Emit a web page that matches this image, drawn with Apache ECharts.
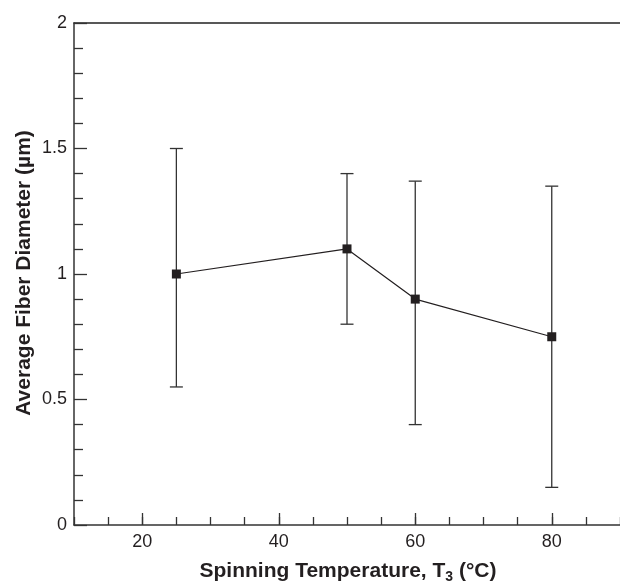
<!DOCTYPE html>
<html>
<head>
<meta charset="utf-8">
<script src="https://cdn.jsdelivr.net/npm/echarts@6/dist/echarts.min.js"></script>
<style>
  html, body { margin: 0; padding: 0; background: #fff; }
  #chart { width: 620px; height: 583px; }
</style>
</head>
<body>
<div id="chart"></div>
<script>
// Spinning temperature (°C) and measured fiber diameter (µm)
const temps = [25, 50, 60, 80];
const diameters = [1.0, 1.1, 0.9, 0.75];
const errLow = [0.55, 0.80, 0.40, 0.15];
const errHigh = [1.50, 1.40, 1.37, 1.35];
const xMajorTicks = [20, 40, 60, 80];

const FONT = '"Liberation Sans", Arial, sans-serif';
const INK = '#231f20';

const chart = echarts.init(document.getElementById('chart'), null, { renderer: 'canvas' });

const meanPoints = temps.map((t, i) => [t, diameters[i]]);
const barPoints = temps.map((t, i) => [t, errLow[i], errHigh[i]]);

const option = {
  animation: false,
  backgroundColor: '#fff',
  grid: { left: 74, top: 23, bottom: 58, right: -3, containLabel: false },
  xAxis: [
    {
      type: 'value', min: 10, max: 90, position: 'bottom',
      axisLine: { show: true, lineStyle: { color: '#333', width: 1.5 } },
      axisTick: { show: true, inside: true, length: 12, customValues: xMajorTicks,
                  lineStyle: { color: '#333', width: 1.3 } },
      axisLabel: { customValues: xMajorTicks, color: INK, fontSize: 18, fontFamily: FONT, margin: 8 },
      splitLine: { show: false }
    },
    {
      type: 'value', min: 10, max: 90, interval: 5, position: 'bottom', offset: 0,
      axisLine: { show: false },
      axisTick: { show: true, inside: true, length: 8, lineStyle: { color: '#333', width: 1.3 } },
      axisLabel: { show: false },
      splitLine: { show: false }
    },
    {
      type: 'value', min: 10, max: 90, position: 'top',
      axisLine: { show: true, lineStyle: { color: '#222', width: 1.5 } },
      axisTick: { show: false },
      axisLabel: { show: false },
      splitLine: { show: false }
    }
  ],
  yAxis: {
    type: 'value', min: 0, max: 2, interval: 0.5,
    axisLine: { show: true, lineStyle: { color: '#333', width: 1.5 } },
    axisTick: { show: true, inside: true, length: 13, lineStyle: { color: '#333', width: 1.3 } },
    minorTick: { show: true, splitNumber: 5, length: 9, lineStyle: { color: '#333', width: 1.3 } },
    axisLabel: { color: INK, fontSize: 18, fontFamily: FONT, margin: 7 },
    splitLine: { show: false },
    minorSplitLine: { show: false }
  },
  graphic: [
    {
      type: 'text', x: 348, y: 571,
      style: {
        text: '{t|Spinning Temperature, T}{s|3}{t| (°C)}',
        align: 'center', verticalAlign: 'middle',
        rich: {
          t: { fontSize: 21, fontWeight: 'bold', fontFamily: FONT, fill: INK },
          s: { fontSize: 14, fontWeight: 'bold', fontFamily: FONT, fill: INK, padding: [12, 0, 0, 0] }
        }
      }
    },
    {
      type: 'text', x: 24, y: 273, rotation: Math.PI / 2,
      style: {
        text: 'Average Fiber Diameter (µm)',
        fontSize: 21, fontWeight: 'bold', fontFamily: FONT, fill: INK,
        align: 'center', verticalAlign: 'middle'
      }
    }
  ],
  series: [
    {
      type: 'custom',
      xAxisIndex: 0,
      data: barPoints,
      z: 2,
      renderItem: function (params, api) {
        const x = api.value(0);
        const lo = api.coord([x, api.value(1)]);
        const hi = api.coord([x, api.value(2)]);
        const half = 6.5;
        const style = { stroke: '#333', lineWidth: 1.3 };
        return {
          type: 'group',
          children: [
            { type: 'line', shape: { x1: lo[0], y1: lo[1], x2: hi[0], y2: hi[1] }, style: style },
            { type: 'line', shape: { x1: hi[0] - half, y1: hi[1], x2: hi[0] + half, y2: hi[1] }, style: style },
            { type: 'line', shape: { x1: lo[0] - half, y1: lo[1], x2: lo[0] + half, y2: lo[1] }, style: style }
          ]
        };
      }
    },
    {
      type: 'line',
      xAxisIndex: 0,
      data: meanPoints,
      z: 3,
      symbol: 'rect',
      symbolSize: 9,
      lineStyle: { color: INK, width: 1.2 },
      itemStyle: { color: INK },
      emphasis: { disabled: true }
    }
  ]
};

chart.setOption(option);
</script>
</body>
</html>
